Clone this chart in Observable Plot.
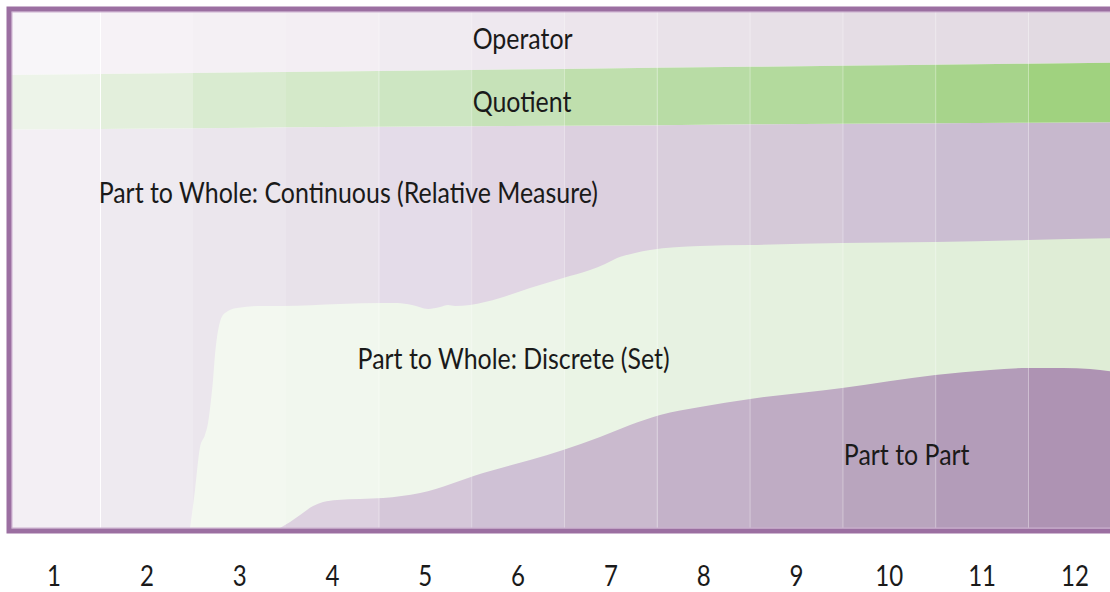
<!DOCTYPE html>
<html>
<head>
<meta charset="utf-8">
<script src="https://cdn.jsdelivr.net/npm/d3@7"></script>
<script src="https://cdn.jsdelivr.net/npm/@observablehq/plot@0.6"></script>
<style>
  html, body { margin: 0; padding: 0; background: #fff; overflow: hidden; }
</style>
</head>
<body>
<div id="chart"></div>
<script>
// ---- data ----
const ticks = [1, 2, 3, 4, 5, 6, 7, 8, 9, 10, 11, 12];

// column edges (x in grade units) for the two upper straight bands
const edgeX = [0.5, 1.5, 2.5, 3.5, 4.5, 5.5, 6.5, 7.5, 8.5, 9.5, 10.5, 11.5, 12.5];
// lower edge of "Operator" (share, 0-100 from bottom)
const operatorLower = [87.6, 87.8, 88.0, 88.2, 88.4, 88.6, 88.8, 89.0, 89.2, 89.4, 89.6, 89.8, 90.0];
// lower edge of "Quotient"
const quotientLower = [77.1, 77.2, 77.3, 77.5, 77.6, 77.7, 77.8, 77.9, 78.1, 78.2, 78.3, 78.4, 78.5];

// upper edge of "Part to Whole: Discrete (Set)"
const discreteX = [2.47, 2.524, 2.578, 2.631, 2.664, 2.696, 2.718, 2.739, 2.761, 2.793, 2.847, 2.976, 3.224, 3.472,
  4.086, 4.55, 4.701, 4.862, 5.035, 5.164, 5.25, 5.326, 5.487, 5.811, 6.134, 6.49, 6.781, 6.943, 7.072, 7.266,
  7.428, 7.967, 8.506, 9.498, 10.5, 11.502, 12.5];
const discreteUpper = [0, 7.35, 15.67, 17.99, 20.31, 24.76, 28.63, 33.46, 36.94, 39.85, 41.59, 42.55, 42.94, 42.94,
  43.33, 43.52, 43.52, 43.13, 42.36, 42.75, 43.13, 42.94, 43.13, 44.49, 46.42, 48.36, 49.9, 51.06, 52.22, 53.19,
  53.77, 54.55, 54.74, 55.13, 55.32, 55.71, 56.09];

// upper edge of "Part to Part"
const partX = [3.44, 3.548, 3.656, 3.796, 3.904, 4.055, 4.302, 4.55, 4.949, 5.628, 6.134, 6.49, 6.888, 7.212,
  7.535, 7.966, 8.506, 9.498, 10.5, 11.093, 11.502, 11.879, 12.17, 12.5];
const partUpper = [0, 1.16, 2.51, 4.26, 5.03, 5.42, 5.61, 5.8, 6.77, 10.64, 13.15, 15.09, 17.6, 19.92,
  21.86, 23.4, 24.95, 27.08, 29.59, 30.56, 30.95, 30.95, 30.75, 29.98];

// band labels
const labelText = ["Operator", "Quotient", "Part to Whole: Continuous (Relative Measure)",
  "Part to Whole: Discrete (Set)", "Part to Part"];
const labelX = [5.51, 5.51, 1.48, 4.27, 9.51];
const labelY = [94.6, 82.4, 64.8, 32.6, 14.0];

// ---- styles: colour of each band in each grade column ----
const operatorColors = ["#f8f6f9", "#f6f2f6", "#f4f0f4", "#f3eef3", "#f0ebf1", "#eee8ef", "#ece5ec", "#e9e2e9",
  "#e7e0e7", "#e5dde5", "#e4dce4", "#e2dae2"];
const quotientColors = ["#edf4e9", "#e3efdc", "#d9ebd0", "#d4e9c9", "#cde6c2", "#c6e2b8", "#bfdfad", "#b8dca5",
  "#b3da9d", "#add795", "#a7d48b", "#a0d27f"];
const continuousColors = ["#f3eff4", "#eeeaf0", "#ebe6ed", "#e8e2ea", "#e4dce9", "#e1d6e4", "#dcd0df", "#d9cedc",
  "#d5c9d8", "#d0c3d6", "#cbbed2", "#c7b8cd"];
const discreteColors = ["#f4f8f1", "#f4f8f1", "#f3f8f0", "#f1f7ee", "#eff6eb", "#edf5e9", "#eaf4e5", "#e7f2e2",
  "#e5f1df", "#e3f0dc", "#e1efda", "#dfedd6"];
const partColors = ["#e2d7e5", "#e2d7e5", "#e0d5e3", "#ddd1e0", "#d5c7d9", "#cfc1d5", "#cabace", "#c4b2c9",
  "#bfacc4", "#b9a5be", "#b39cb9", "#ae93b3"];
const ruleOpacity = [0.95, 0, 0, 0.55, 0.35, 0.35, 0.45, 0.35, 0.4, 0.4, 0.4];

// ---- layout ----
const W = 1122, H = 592;
const mL = 7.2, mR = 1.2, mT = 11, mB = 64;
const font = "Lato, 'Open Sans', sans-serif";
const condense = 0.86; // horizontal text compression to mimic the narrow face

const upper = edgeX.map((x, i) => ({x, op: operatorLower[i], qu: quotientLower[i]}));
const disc = discreteX.map((x, i) => ({x, y: discreteUpper[i]}));
const part = partX.map((x, i) => ({x, y: partUpper[i]}));
const labels = labelText.map((t, i) => ({t, x: labelX[i], y: labelY[i]}));
const boundaries = edgeX.slice(1, -1).map((x, i) => ({x, o: ruleOpacity[i]}));

const svg = Plot.plot({
  width: W,
  height: H,
  marginLeft: mL,
  marginRight: mR,
  marginTop: mT,
  marginBottom: mB,
  style: {fontFamily: font, fontSize: "28px", color: "#1a1a1a", background: "#fff", maxWidth: "none", overflow: "hidden"},
  x: {domain: [0.5, 12.5]},
  y: {domain: [0, 100], axis: null},
  marks: [
    Plot.areaY(upper, {x: "x", y1: 0, y2: "qu", fill: "url(#gCont)"}),
    Plot.areaY(upper, {x: "x", y1: "op", y2: 100, fill: "url(#gOp)"}),
    Plot.areaY(upper, {x: "x", y1: "qu", y2: "op", fill: "url(#gQu)"}),
    Plot.areaY(disc, {x: "x", y1: 0, y2: "y", fill: "url(#gDisc)", curve: "monotone-x"}),
    Plot.areaY(part, {x: "x", y1: 0, y2: "y", fill: "url(#gPart)", curve: "monotone-x"}),
    Plot.ruleX(boundaries, {x: "x", y1: 0, y2: 100, stroke: "#ffffff", strokeOpacity: "o", strokeWidth: 1}),
    Plot.text(labels, {x: "x", y: "y", text: "t", textAnchor: "start", fontSize: 29, fill: "#1a1a1a"}),
    Plot.frame({stroke: "#cdb0d1", strokeWidth: 1, insetTop: 0.5, insetBottom: 0.5, insetLeft: 4.3, insetRight: -3}),
    Plot.frame({stroke: "#9b6fa1", strokeWidth: 5, insetTop: -2.5, insetBottom: -2.5, insetLeft: 1.3, insetRight: -3}),
    Plot.axisX(ticks, {tickSize: 0, tickPadding: 38, fontSize: 28, label: null, fill: "#1a1a1a"})
  ]
});

// gradient definitions: one colour step per grade column
const x0 = mL, x1 = W - mR;
const defs = d3.select(svg).insert("defs", ":first-child");
function addGradient(id, colors) {
  const g = defs.append("linearGradient")
    .attr("id", id)
    .attr("gradientUnits", "userSpaceOnUse")
    .attr("x1", x0).attr("x2", x1).attr("y1", 0).attr("y2", 0);
  colors.forEach((c, i) => {
    g.append("stop").attr("offset", i / colors.length).attr("stop-color", c);
    g.append("stop").attr("offset", (i + 1) / colors.length).attr("stop-color", c);
  });
}
addGradient("gOp", operatorColors);
addGradient("gQu", quotientColors);
addGradient("gCont", continuousColors);
addGradient("gDisc", discreteColors);
addGradient("gPart", partColors);

// narrow the text horizontally around its own anchor point
d3.select(svg).selectAll("text").each(function () {
  const t = this.getAttribute("transform") || "";
  const x = parseFloat(this.getAttribute("x")) || 0;
  this.setAttribute("transform", `${t} translate(${x},0) scale(${condense},1) translate(${-x},0)`.trim());
});

document.getElementById("chart").appendChild(svg);
</script>
</body>
</html>
